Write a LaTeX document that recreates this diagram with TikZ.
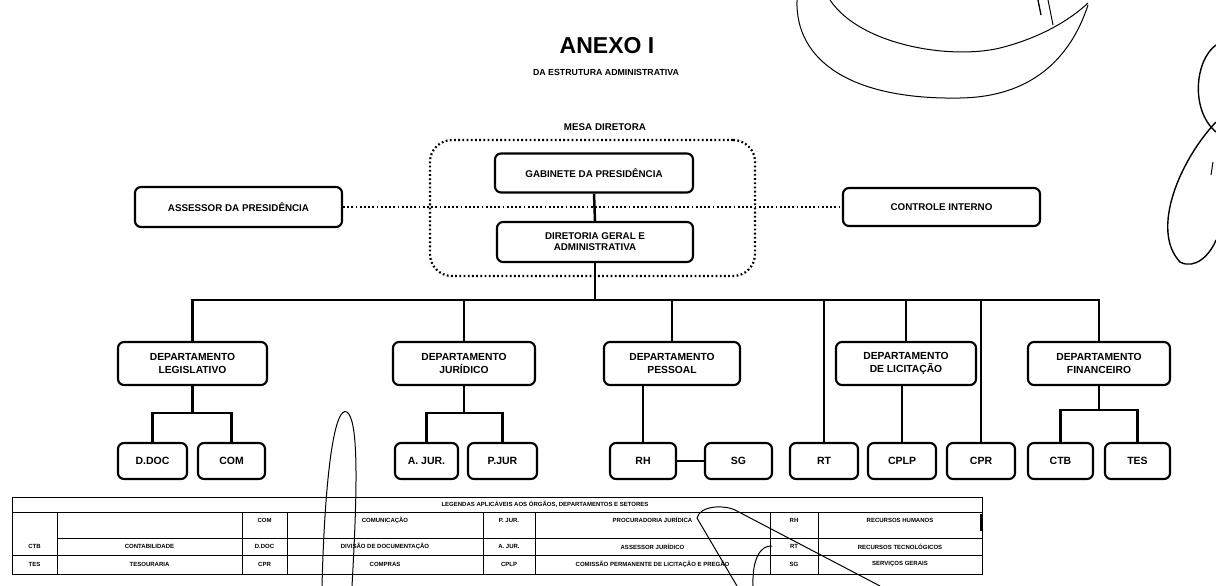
\documentclass[tikz,border=0pt]{standalone}
\usepackage{fontspec}
\setmainfont{Liberation Sans}
\usetikzlibrary{calc}
\begin{document}
\begin{tikzpicture}[x=1pt,y=-1pt,
  box/.style={draw, line width=2.1pt, rounded corners=6pt, align=center, inner sep=0pt,
              font=\bfseries\fontsize{9.8}{11}\selectfont},
  dept/.style={box, minimum height=43pt, font=\bfseries\fontsize{10.3}{13}\selectfont},
  leaf/.style={box, minimum height=36pt, font=\bfseries\fontsize{10.5}{12}\selectfont},
  conn/.style={line width=2.5pt},
  dots/.style={line width=2.2pt, dash pattern=on 1.8pt off 2.4pt},
  tline/.style={line width=1pt},
  ttext/.style={font=\bfseries\fontsize{6}{7}\selectfont, inner sep=0pt},
  scrib/.style={line width=1pt}]
\useasboundingbox (0,0) rectangle (1216,586);
\fill[white] (0,0) rectangle (1216,586);

% titles
\node[font=\bfseries\fontsize{23}{26}\selectfont] (title) at (607,46) {ANEXO I};
\node[font=\bfseries\fontsize{8.8}{10}\selectfont] (subtitle) at (606,72) {DA ESTRUTURA ADMINISTRATIVA};
\node[font=\bfseries\fontsize{9.8}{11}\selectfont] (mesa) at (605,127) {MESA DIRETORA};

% mesa diretora group
\node[draw, dots, rounded corners=22pt, minimum width=325pt, minimum height=136pt, inner sep=0pt] (mesabox) at (592.5,208) {};

\node[box, minimum width=207pt, minimum height=40pt] (assessor) at (238.5,207) {ASSESSOR DA PRESIDÊNCIA};
\node[box, minimum width=198pt, minimum height=39pt] (gab) at (594,173) {GABINETE DA PRESIDÊNCIA};
\node[box, minimum width=196pt, minimum height=40pt] (dir) at (595,242) {DIRETORIA GERAL E\\ADMINISTRATIVA};
\node[box, minimum width=197pt, minimum height=38pt] (ctrl) at (941.5,207) {CONTROLE INTERNO};

\draw[dots] (assessor.east) -- (ctrl.west);
\draw[conn] (gab.south) -- (dir.north);

% departments
\node[dept, minimum width=149pt] (leg) at (192.5,363.5) {DEPARTAMENTO\\LEGISLATIVO};
\node[dept, minimum width=142pt] (jur) at (464,363.5) {DEPARTAMENTO\\JURÍDICO};
\node[dept, minimum width=136pt] (pes) at (672,363.5) {DEPARTAMENTO\\PESSOAL};
\node[dept, minimum width=140pt] (lic) at (906,363.5) {DEPARTAMENTO\\DE LICITAÇÃO};
\node[dept, minimum width=142pt] (fin) at (1099,363.5) {DEPARTAMENTO\\FINANCEIRO};

% leaves
\node[leaf, minimum width=69pt] (ddoc) at (152.5,461) {D.DOC};
\node[leaf, minimum width=67pt] (com) at (231.5,461) {COM};
\node[leaf, minimum width=63pt] (ajur) at (426.5,461) {A. JUR.};
\node[leaf, minimum width=69pt] (pjur) at (502.5,461) {P.JUR};
\node[leaf, minimum width=66pt] (rh) at (643,461) {RH};
\node[leaf, minimum width=67pt] (sg) at (738.5,461) {SG};
\node[leaf, minimum width=68pt] (rt) at (824,461) {RT};
\node[leaf, minimum width=68pt] (cplp) at (902,461) {CPLP};
\node[leaf, minimum width=68pt] (cpr) at (981,461) {CPR};
\node[leaf, minimum width=65pt] (ctb) at (1060.5,461) {CTB};
\node[leaf, minimum width=65pt] (tes) at (1137.5,461) {TES};

% bus
\coordinate (bus) at (600,300);
\draw[conn] (dir.south) -- (dir.south |- bus);
\draw[conn] (leg.north) |- (fin.north |- bus) -- (fin.north);
\draw[conn] (jur.north |- bus) -- (jur.north);
\draw[conn] (pes.north |- bus) -- (pes.north);
\draw[conn] (rt.north |- bus) -- (rt.north);
\draw[conn] (lic.north |- bus) -- (lic.north);
\draw[conn] (cpr.north |- bus) -- (cpr.north);

% sub connectors
\coordinate (legj) at (192.5,413);
\draw[conn] (leg.south) -- (legj);
\draw[conn] (ddoc.north) |- (legj) -| (com.north);
\coordinate (jurj) at (464,413);
\draw[conn] (jur.south) -- (jurj);
\draw[conn] (ajur.north) |- (jurj) -| (pjur.north);
\draw[conn] (pes.south -| rh.north) -- (rh.north);
\draw[line width=1.8pt] (rh.east) -- (sg.west);
\draw[conn] (lic.south -| cplp.north) -- (cplp.north);
\coordinate (finj) at (1099,410);
\draw[conn] (fin.south) -- (finj);
\draw[conn] (ctb.north) |- (finj) -| (tes.north);

% legend table
\draw[tline] (12,497) rectangle (982,574);
\draw[tline] (12,512) -- (982,512);
\draw[tline] (57,538) -- (982,538);
\draw[tline] (12,555) -- (982,555);
\foreach \xx in {57,242,287,483,535,770,818} \draw[tline] (\xx,512) -- (\xx,574);
\draw[line width=2.5pt] (981,514) -- (981,531);

\node[ttext] (hdr) at (545,504.5) {LEGENDAS APLICÁVEIS AOS ÓRGÃOS, DEPARTAMENTOS E SETORES};
\node[ttext] (l13) at (264.5,520) {COM};
\node[ttext] (l14) at (385,520) {COMUNICAÇÃO};
\node[ttext] (l15) at (509,520) {P. JUR.};
\node[ttext] (l16) at (652.5,520) {PROCURADORIA JURÍDICA};
\node[ttext] (l17) at (794,520) {RH};
\node[ttext] (l18) at (900,520) {RECURSOS HUMANOS};
\node[ttext] (l21) at (34.5,546.5) {CTB};
\node[ttext] (l22) at (149.5,546.5) {CONTABILIDADE};
\node[ttext] (l23) at (264.5,546.5) {D.DOC};
\node[ttext] (l24) at (385,546.5) {DIVISÃO DE DOCUMENTAÇÃO};
\node[ttext] (l25) at (509,546.5) {A. JUR.};
\node[ttext] (l26) at (652.5,546.5) {ASSESSOR JURÍDICO};
\node[ttext] (l27) at (794,546.5) {RT};
\node[ttext] (l28) at (900,546.5) {RECURSOS TECNOLÓGICOS};
\node[ttext] (l31) at (34.5,564.5) {TES};
\node[ttext] (l32) at (149.5,564.5) {TESOURARIA};
\node[ttext] (l33) at (264.5,564.5) {CPR};
\node[ttext] (l34) at (385,564.5) {COMPRAS};
\node[ttext] (l35) at (509,564.5) {CPLP};
\node[ttext] (l36) at (652.5,564.5) {COMISSÃO PERMANENTE DE LICITAÇÃO E PREGÃO};
\node[ttext] (l37) at (794,564.5) {SG};
\node[ttext] (l38) at (900,564.5) {SERVIÇOS GERAIS};

% handwritten marks
\draw[scrib] (797,0) .. controls (795,60) and (850,100) .. (960,98) .. controls (1030,97) and (1070,60) .. (1088,5);
\draw[scrib] (830,0) .. controls (860,45) and (950,60) .. (1000,48) .. controls (1040,38) and (1070,20) .. (1088,3);
\draw[line width=1.3pt] (1038,0) -- (1041,15);
\draw[scrib] (1048,0) -- (1053,25);
\draw[line width=1.4pt] (1216,45) .. controls (1195,60) and (1190,110) .. (1216,132);
\draw[line width=1.4pt] (1216,122) .. controls (1180,160) and (1150,230) .. (1180,262) .. controls (1195,270) and (1210,255) .. (1216,240);
\draw[scrib] (1213,162) -- (1211,175);
\draw[scrib] (322,586) .. controls (325,470) and (335,405) .. (347,412) .. controls (358,420) and (358,480) .. (352,586);
\draw[scrib] (697,518) .. controls (700,505) and (725,505) .. (735,510) -- (880,586);
\draw[scrib] (697,518) -- (737,586);
\draw[scrib] (753,586) .. controls (752,560) and (760,545) .. (772,546);
\end{tikzpicture}
\end{document}
